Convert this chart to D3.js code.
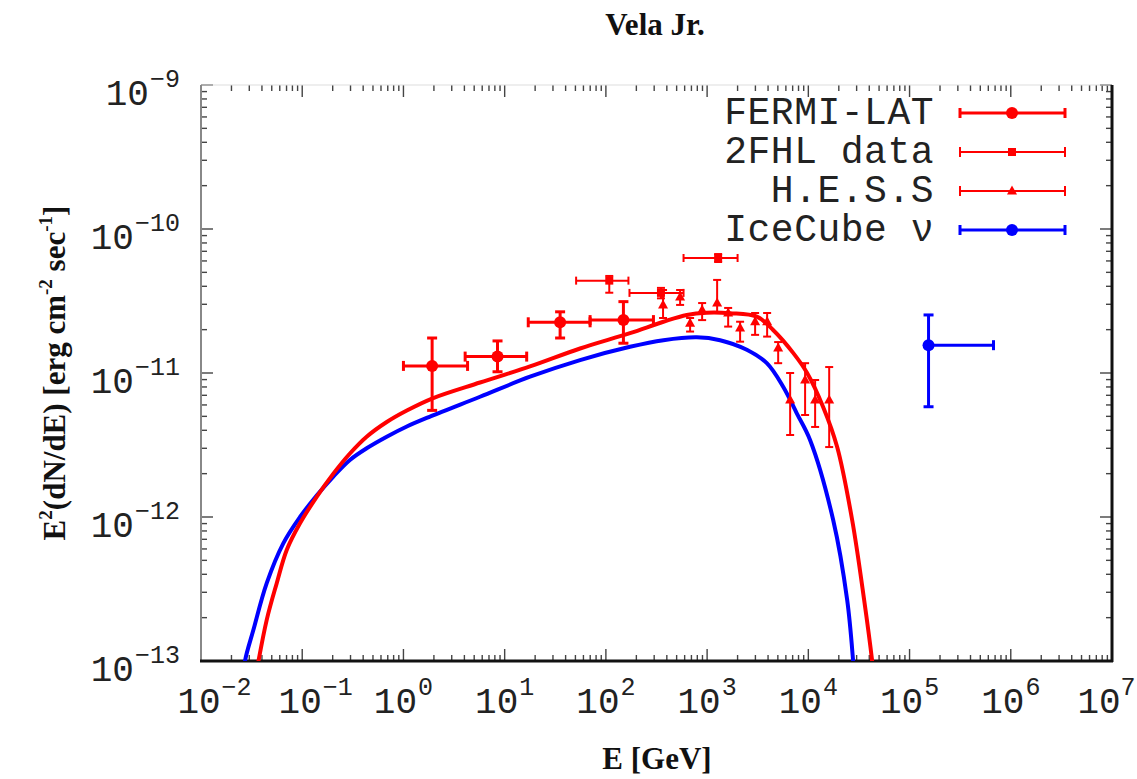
<!DOCTYPE html>
<html>
<head>
<meta charset="utf-8">
<script src="https://cdn.jsdelivr.net/npm/d3@7"></script>
<style>
  body { margin: 0; background: #fff; }
  svg { display: block; }
  .mono { font-family: "Liberation Mono", "DejaVu Sans Mono", monospace; fill: #222; }
  .serif { font-family: "Liberation Serif", "DejaVu Serif", serif; font-weight: bold; fill: #111; }
</style>
</head>
<body>
<div id="chart"></div>
<script>
// ---- data ----
// FERMI-LAT: energy [GeV], bin edges, flux and error range
const fermiE   = [1.92, 8.5, 35.3, 149];
const fermiElo = [1.0, 4.07, 17.1, 69.8];
const fermiEhi = [4.3, 16.5, 69.8, 295];
const fermiF   = [1.12e-11, 1.30e-11, 2.25e-11, 2.33e-11];
const fermiFlo = [5.5e-12, 1.02e-11, 1.75e-11, 1.61e-11];
const fermiFhi = [1.75e-11, 1.67e-11, 2.66e-11, 3.13e-11];

// 2FHL
const fhlE   = [108, 350, 1285];
const fhlElo = [50.8, 171, 585];
const fhlEhi = [167, 585, 2000];
const fhlF   = [4.38e-11, 3.6e-11, 6.29e-11];
const fhlFlo = [3.61e-11, 3.3e-11, 5.9e-11];
const fhlFhi = [4.72e-11, 3.9e-11, 6.7e-11];

// H.E.S.S
const hessE   = [367, 541, 679, 893, 1256, 1614, 2118, 2980, 3917, 5035, 6610, 9290, 11670, 16070];
const hessF   = [2.97e-11, 3.37e-11, 2.22e-11, 2.74e-11, 3.06e-11, 2.61e-11, 2.05e-11, 2.27e-11, 2.27e-11, 1.49e-11, 6.49e-12, 8.94e-12, 6.49e-12, 6.49e-12];
const hessFlo = [2.41e-11, 2.97e-11, 1.94e-11, 2.33e-11, 2.61e-11, 2.10e-11, 1.65e-11, 1.84e-11, 1.79e-11, 1.17e-11, 3.71e-12, 5.11e-12, 4.22e-12, 3.06e-12];
const hessFhi = [3.77e-11, 3.77e-11, 2.41e-11, 3.06e-11, 4.43e-11, 2.83e-11, 2.27e-11, 2.61e-11, 2.61e-11, 1.64e-11, 1.0e-11, 1.17e-11, 8.94e-12, 1.10e-11];

// IceCube neutrino point
const icE   = [1.54e5];
const icElo = [1.54e5];
const icEhi = [6.75e5];
const icF   = [1.56e-11];
const icFlo = [5.83e-12];
const icFhi = [2.53e-11];

// model curves
const gammaE = [0.0342, 0.0446, 0.0560, 0.0703, 0.0951, 0.139, 0.203, 0.296, 0.433, 0.684, 1.08, 1.97, 5.71, 17.8, 55.6, 173, 370, 630, 993, 1687, 3097, 4487, 7080, 9730, 14000, 19270, 27100, 35600, 42700, 45700];
const gammaF = [7.4e-14, 1.93e-13, 3.47e-13, 5.90e-13, 9.04e-13, 1.38e-12, 2.00e-12, 2.76e-12, 3.61e-12, 4.57e-12, 5.49e-12, 6.70e-12, 8.59e-12, 1.11e-11, 1.48e-11, 1.89e-11, 2.27e-11, 2.53e-11, 2.62e-11, 2.60e-11, 2.46e-11, 1.99e-11, 1.38e-11, 1.0e-11, 5.81e-12, 3.06e-12, 9.53e-13, 2.65e-13, 1.0e-13, 6.3e-14];
const nuE = [0.0254, 0.0272, 0.0329, 0.0446, 0.065, 0.0951, 0.139, 0.203, 0.296, 0.433, 0.684, 1.08, 1.83, 5.71, 17.8, 55.6, 173, 370, 791, 1343, 2466, 3890, 5640, 7690, 10400, 17600, 24200, 27700, 29000];
const nuF = [6.3e-14, 1.0e-13, 1.64e-13, 3.47e-13, 6.56e-13, 1.0e-12, 1.41e-12, 1.91e-12, 2.49e-12, 3.0e-12, 3.61e-12, 4.25e-12, 4.98e-12, 6.84e-12, 9.42e-12, 1.23e-11, 1.52e-11, 1.69e-11, 1.77e-11, 1.69e-11, 1.45e-11, 1.17e-11, 8.03e-12, 5.25e-12, 3.43e-12, 9.53e-13, 2.65e-13, 1.0e-13, 6.3e-14];

const xDecades = [-2, -1, 0, 1, 2, 3, 4, 5, 6, 7];
const yDecades = [-13, -12, -11, -10, -9];
const legendLabels = ["FERMI-LAT", "2FHL data", "H.E.S.S", "IceCube \u03bd"];

// ---- layout ----
const W = 1137, H = 779;
const box = {left: 201, right: 1112, top: 85, bottom: 661};
const RED = "#ff0000", BLUE = "#0000ff";

const svg = d3.select("#chart").append("svg").attr("width", W).attr("height", H);

const x = d3.scaleLog().domain([1e-2, 1e7]).range([box.left, box.right]);
const y = d3.scaleLog().domain([1e-13, 1e-9]).range([box.bottom, box.top]);

svg.append("clipPath").attr("id", "clip")
  .append("rect")
  .attr("x", box.left).attr("y", box.top)
  .attr("width", box.right - box.left).attr("height", box.bottom - box.top);

// ticks, inward on all four sides
const tickG = svg.append("g").attr("stroke", "#444").attr("stroke-width", 1.4);
const xMinor = [], yMinor = [];
xDecades.forEach(d => { if (d < 7) for (let m = 2; m < 10; m++) xMinor.push(m * Math.pow(10, d)); });
yDecades.forEach(d => { if (d < -9) for (let m = 2; m < 10; m++) yMinor.push(m * Math.pow(10, d)); });

xDecades.forEach(d => {
  const px = x(Math.pow(10, d));
  tickG.append("line").attr("x1", px).attr("x2", px).attr("y1", box.bottom).attr("y2", box.bottom - 12);
  tickG.append("line").attr("x1", px).attr("x2", px).attr("y1", box.top).attr("y2", box.top + 12);
});
xMinor.forEach(v => {
  const px = x(v);
  tickG.append("line").attr("x1", px).attr("x2", px).attr("y1", box.bottom).attr("y2", box.bottom - 6);
  tickG.append("line").attr("x1", px).attr("x2", px).attr("y1", box.top).attr("y2", box.top + 6);
});
yDecades.forEach(d => {
  const py = y(Math.pow(10, d));
  tickG.append("line").attr("x1", box.left).attr("x2", box.left + 12).attr("y1", py).attr("y2", py);
  tickG.append("line").attr("x1", box.right).attr("x2", box.right - 12).attr("y1", py).attr("y2", py);
});
yMinor.forEach(v => {
  const py = y(v);
  tickG.append("line").attr("x1", box.left).attr("x2", box.left + 6).attr("y1", py).attr("y2", py);
  tickG.append("line").attr("x1", box.right).attr("x2", box.right - 6).attr("y1", py).attr("y2", py);
});

// frame
svg.append("line").attr("x1", box.left).attr("x2", box.right).attr("y1", box.top).attr("y2", box.top)
  .attr("stroke", "#ddd").attr("stroke-width", 1);
svg.append("line").attr("x1", box.left).attr("x2", box.left).attr("y1", box.top).attr("y2", box.bottom)
  .attr("stroke", "#888").attr("stroke-width", 2);
svg.append("line").attr("x1", box.right).attr("x2", box.right).attr("y1", box.top).attr("y2", box.bottom + 1)
  .attr("stroke", "#111").attr("stroke-width", 3);
svg.append("line").attr("x1", box.left - 1).attr("x2", box.right + 1).attr("y1", box.bottom).attr("y2", box.bottom)
  .attr("stroke", "#111").attr("stroke-width", 3);

// tick labels
xDecades.forEach(d => {
  const px = x(Math.pow(10, d));
  // the last label sits against the right edge of the page
  const shift = d < 0 ? 2 : (d === 7 ? 13 : 8);
  const t = svg.append("text").attr("class", "mono")
    .attr("x", px - shift - 21.6).attr("y", 713).attr("text-anchor", "start");
  t.append("tspan").attr("font-size", 36).text("10");
  t.append("tspan").attr("font-size", 25).attr("dy", -18).attr("dx", d === 7 ? 0 : 1)
    .text(d < 0 ? "\u2212" + (-d) : String(d));
});
yDecades.forEach(d => {
  const py = y(Math.pow(10, d));
  const t = svg.append("text").attr("class", "mono")
    .attr("x", 180).attr("y", py + 20).attr("text-anchor", "end");
  t.append("tspan").attr("font-size", 36).text("10");
  t.append("tspan").attr("font-size", 25).attr("dy", -18).attr("dx", 1).text("\u2212" + (-d));
});

// axis titles and chart title
svg.append("text").attr("class", "serif").attr("x", 655).attr("y", 35)
  .attr("text-anchor", "middle").attr("font-size", 31).text("Vela Jr.");
svg.append("text").attr("class", "serif").attr("x", 657).attr("y", 769)
  .attr("text-anchor", "middle").attr("font-size", 31).text("E [GeV]");
const yt = svg.append("text").attr("class", "serif").attr("font-size", 31)
  .attr("text-anchor", "middle").attr("transform", "translate(65,373) rotate(-90)");
yt.append("tspan").text("E");
yt.append("tspan").attr("font-size", 19).attr("dy", -13).text("2");
yt.append("tspan").attr("dy", 13).text("(dN/dE) [erg cm");
yt.append("tspan").attr("font-size", 19).attr("dy", -13).text("-2");
yt.append("tspan").attr("dy", 13).text(" sec");
yt.append("tspan").attr("font-size", 19).attr("dy", -13).text("-1");
yt.append("tspan").attr("dy", 13).text("]");

// model curves
const plot = svg.append("g").attr("clip-path", "url(#clip)");
const line = d3.line().x(d => x(d[0])).y(d => y(d[1])).curve(d3.curveCatmullRom.alpha(0.5));
plot.append("path").datum(d3.zip(nuE, nuF))
  .attr("fill", "none").attr("stroke", BLUE).attr("stroke-width", 4).attr("d", line);
plot.append("path").datum(d3.zip(gammaE, gammaF))
  .attr("fill", "none").attr("stroke", RED).attr("stroke-width", 4).attr("d", line);

// error bar helper
function errorBars(g, E, Elo, Ehi, F, Flo, Fhi, color, width, cap, marker) {
  E.forEach((e, i) => {
    const cx = x(e), cy = y(F[i]);
    const x0 = x(Elo[i]), x1 = x(Ehi[i]);
    const y0 = y(Flo[i]), y1 = y(Fhi[i]);
    const s = g.append("g").attr("stroke", color).attr("stroke-width", width).attr("fill", color);
    s.append("line").attr("x1", x0).attr("x2", x1).attr("y1", cy).attr("y2", cy);
    s.append("line").attr("x1", cx).attr("x2", cx).attr("y1", y0).attr("y2", y1);
    if (x0 < cx - 1) s.append("line").attr("x1", x0).attr("x2", x0).attr("y1", cy - cap).attr("y2", cy + cap);
    if (x1 > cx + 1) s.append("line").attr("x1", x1).attr("x2", x1).attr("y1", cy - cap).attr("y2", cy + cap);
    s.append("line").attr("x1", cx - cap).attr("x2", cx + cap).attr("y1", y0).attr("y2", y0);
    s.append("line").attr("x1", cx - cap).attr("x2", cx + cap).attr("y1", y1).attr("y2", y1);
    drawMarker(s, marker, cx, cy, color);
  });
}
function drawMarker(s, marker, cx, cy, color) {
  if (marker === "circle") s.append("circle").attr("cx", cx).attr("cy", cy).attr("r", 6).attr("stroke", "none");
  if (marker === "square") s.append("rect").attr("x", cx - 4).attr("y", cy - 4).attr("width", 8).attr("height", 8).attr("stroke", "none");
  if (marker === "triangle") s.append("path").attr("stroke", "none")
    .attr("d", `M${cx},${cy - 5.5}L${cx + 5},${cy + 3.5}L${cx - 5},${cy + 3.5}Z`);
}

const pts = svg.append("g");
errorBars(pts, fermiE, fermiElo, fermiEhi, fermiF, fermiFlo, fermiFhi, RED, 3, 5, "circle");
errorBars(pts, fhlE, fhlElo, fhlEhi, fhlF, fhlFlo, fhlFhi, RED, 2, 4, "square");
errorBars(pts, hessE, hessE, hessE, hessF, hessFlo, hessFhi, RED, 2, 4, "triangle");
errorBars(pts, icE, icElo, icEhi, icF, icFlo, icFhi, BLUE, 3, 5, "circle");

// legend
const legStyles = [
  {color: RED, width: 3, marker: "circle"},
  {color: RED, width: 2, marker: "square"},
  {color: RED, width: 2, marker: "triangle"},
  {color: BLUE, width: 3, marker: "circle"}
];
const legY = [113, 152, 191, 230];
legendLabels.forEach((lab, i) => {
  svg.append("text").attr("class", "mono").attr("font-size", 38).attr("letter-spacing", 0.5)
    .attr("x", 934).attr("y", legY[i] + 11).attr("text-anchor", "end").text(lab);
  const st = legStyles[i];
  const s = svg.append("g").attr("stroke", st.color).attr("stroke-width", st.width).attr("fill", st.color);
  s.append("line").attr("x1", 960).attr("x2", 1065).attr("y1", legY[i]).attr("y2", legY[i]);
  s.append("line").attr("x1", 960).attr("x2", 960).attr("y1", legY[i] - 5).attr("y2", legY[i] + 5);
  s.append("line").attr("x1", 1065).attr("x2", 1065).attr("y1", legY[i] - 5).attr("y2", legY[i] + 5);
  drawMarker(s, st.marker, 1012, legY[i], st.color);
});
</script>
</body>
</html>
